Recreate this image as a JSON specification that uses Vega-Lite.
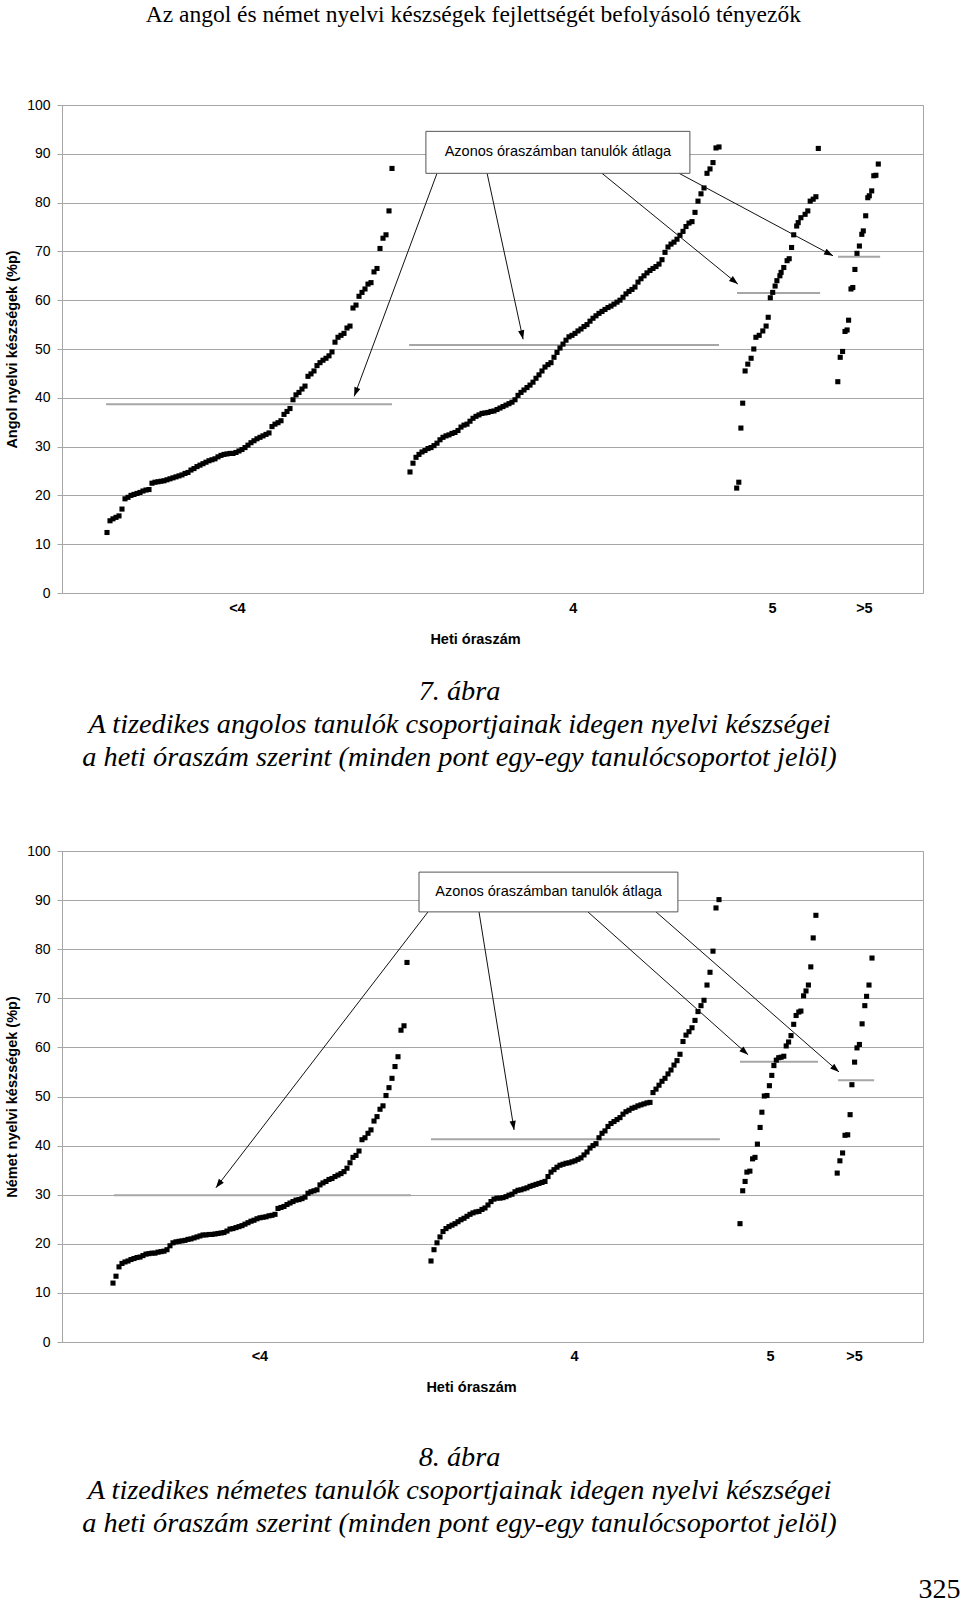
{
"$schema":"https://vega.github.io/schema/vega-lite/v6.json",
"padding":{"left":4,"top":3,"right":0,"bottom":0},
"background":"#ffffff",
"title":{"text":"Az angol és német nyelvi készségek fejlettségét befolyásoló tényezők","font":"Liberation Serif","fontSize":23.5,"fontWeight":"normal","color":"#000","anchor":"middle","offset":71,"dx":-9},
"spacing":71,
"datasets":{
"ptsA":[
{"x":15,"y":12.4},{"x":16,"y":14.8},{"x":17,"y":15.2},{"x":18,"y":15.5},{"x":19,"y":15.8},{"x":20,"y":17.2},{"x":21,"y":19.3},{"x":22,"y":19.6},{"x":23,"y":20.0},{"x":24,"y":20.2},{"x":25,"y":20.4},{"x":26,"y":20.6},{"x":27,"y":20.9},{"x":28,"y":21.1},{"x":29,"y":21.2},{"x":30,"y":22.5},{"x":31,"y":22.7},{"x":32,"y":22.8},{"x":33,"y":22.9},{"x":34,"y":23.0},{"x":35,"y":23.2},{"x":36,"y":23.4},{"x":37,"y":23.6},{"x":38,"y":23.8},{"x":39,"y":24.0},{"x":40,"y":24.2},{"x":41,"y":24.5},{"x":42,"y":24.7},{"x":43,"y":25.2},{"x":44,"y":25.5},{"x":45,"y":25.9},{"x":46,"y":26.2},{"x":47,"y":26.5},{"x":48,"y":26.8},{"x":49,"y":27.1},{"x":50,"y":27.3},{"x":51,"y":27.5},{"x":52,"y":27.9},{"x":53,"y":28.2},{"x":54,"y":28.4},{"x":55,"y":28.5},{"x":56,"y":28.6},{"x":57,"y":28.6},{"x":58,"y":28.8},{"x":59,"y":29.1},{"x":60,"y":29.4},{"x":61,"y":29.8},{"x":62,"y":30.3},{"x":63,"y":30.8},{"x":64,"y":31.2},{"x":65,"y":31.6},{"x":66,"y":31.9},{"x":67,"y":32.2},{"x":68,"y":32.5},{"x":69,"y":32.8},{"x":70,"y":34.1},{"x":71,"y":34.6},{"x":72,"y":34.9},{"x":73,"y":35.3},{"x":74,"y":36.6},{"x":75,"y":37.2},{"x":76,"y":37.8},{"x":77,"y":39.6},{"x":78,"y":40.6},{"x":79,"y":41.1},{"x":80,"y":41.8},{"x":81,"y":42.4},{"x":82,"y":44.4},{"x":83,"y":44.9},{"x":84,"y":45.5},{"x":85,"y":46.6},{"x":86,"y":47.2},{"x":87,"y":47.7},{"x":88,"y":48.1},{"x":89,"y":48.6},{"x":90,"y":49.4},{"x":91,"y":51.4},{"x":92,"y":52.4},{"x":93,"y":52.8},{"x":94,"y":53.2},{"x":95,"y":54.3},{"x":96,"y":54.7},{"x":97,"y":58.4},{"x":98,"y":59.0},{"x":99,"y":60.8},{"x":100,"y":61.6},{"x":101,"y":62.3},{"x":102,"y":63.3},{"x":103,"y":63.6},{"x":104,"y":65.8},{"x":105,"y":66.5},{"x":106,"y":70.6},{"x":107,"y":72.7},{"x":108,"y":73.4},{"x":109,"y":78.3},{"x":110,"y":87.0},
{"x":116,"y":24.8},{"x":117,"y":26.6},{"x":118,"y":27.8},{"x":119,"y":28.4},{"x":120,"y":28.9},{"x":121,"y":29.2},{"x":122,"y":29.6},{"x":123,"y":29.8},{"x":124,"y":30.2},{"x":125,"y":30.7},{"x":126,"y":31.4},{"x":127,"y":31.9},{"x":128,"y":32.2},{"x":129,"y":32.4},{"x":130,"y":32.7},{"x":131,"y":32.9},{"x":132,"y":33.3},{"x":133,"y":34.0},{"x":134,"y":34.4},{"x":135,"y":34.6},{"x":136,"y":35.2},{"x":137,"y":35.8},{"x":138,"y":36.2},{"x":139,"y":36.5},{"x":140,"y":36.8},{"x":141,"y":36.9},{"x":142,"y":37.0},{"x":143,"y":37.2},{"x":144,"y":37.3},{"x":145,"y":37.6},{"x":146,"y":37.9},{"x":147,"y":38.2},{"x":148,"y":38.5},{"x":149,"y":38.8},{"x":150,"y":39.1},{"x":151,"y":39.6},{"x":152,"y":40.5},{"x":153,"y":41.1},{"x":154,"y":41.6},{"x":155,"y":42.1},{"x":156,"y":42.6},{"x":157,"y":43.2},{"x":158,"y":44.0},{"x":159,"y":44.7},{"x":160,"y":45.5},{"x":161,"y":46.3},{"x":162,"y":46.8},{"x":163,"y":47.2},{"x":164,"y":48.3},{"x":165,"y":49.3},{"x":166,"y":50.2},{"x":167,"y":51.0},{"x":168,"y":51.8},{"x":169,"y":52.5},{"x":170,"y":52.8},{"x":171,"y":53.2},{"x":172,"y":53.7},{"x":173,"y":54.1},{"x":174,"y":54.6},{"x":175,"y":55.0},{"x":176,"y":55.7},{"x":177,"y":56.3},{"x":178,"y":56.8},{"x":179,"y":57.3},{"x":180,"y":57.7},{"x":181,"y":58.1},{"x":182,"y":58.5},{"x":183,"y":58.8},{"x":184,"y":59.2},{"x":185,"y":59.6},{"x":186,"y":60.0},{"x":187,"y":60.6},{"x":188,"y":61.3},{"x":189,"y":61.8},{"x":190,"y":62.2},{"x":191,"y":62.7},{"x":192,"y":63.7},{"x":193,"y":64.4},{"x":194,"y":65.0},{"x":195,"y":65.6},{"x":196,"y":66.1},{"x":197,"y":66.5},{"x":198,"y":66.9},{"x":199,"y":67.4},{"x":200,"y":68.3},{"x":201,"y":69.8},{"x":202,"y":70.9},{"x":203,"y":71.5},{"x":204,"y":71.9},{"x":205,"y":72.5},{"x":206,"y":73.3},{"x":207,"y":74.1},{"x":208,"y":75.1},{"x":209,"y":75.8},{"x":210,"y":76.1},{"x":211,"y":78.0},{"x":212,"y":80.3},{"x":213,"y":81.8},{"x":214,"y":83.0},{"x":215,"y":86.0},{"x":216,"y":86.9},{"x":217,"y":88.2},{"x":218,"y":91.2},{"x":219,"y":91.4},
{"x":224.9,"y":21.5},{"x":225.6,"y":22.7},{"x":226.3,"y":33.8},{"x":226.9,"y":38.9},{"x":227.7,"y":45.5},{"x":228.6,"y":46.9},{"x":229.7,"y":48.1},{"x":230.6,"y":50.0},{"x":231.3,"y":52.4},{"x":232.4,"y":52.8},{"x":233.6,"y":53.7},{"x":234.7,"y":54.7},{"x":235.4,"y":56.5},{"x":236.1,"y":60.5},{"x":236.9,"y":61.6},{"x":237.7,"y":62.9},{"x":238.3,"y":64.0},{"x":239.3,"y":65.0},{"x":239.7,"y":65.7},{"x":240.6,"y":66.7},{"x":241.7,"y":68.1},{"x":242.4,"y":68.5},{"x":243.2,"y":70.8},{"x":243.9,"y":73.4},{"x":244.9,"y":75.2},{"x":245.4,"y":75.9},{"x":246.3,"y":76.9},{"x":247.7,"y":77.6},{"x":248.6,"y":78.3},{"x":249.4,"y":80.3},{"x":250.4,"y":80.7},{"x":251.3,"y":81.2},{"x":252.1,"y":91.1},
{"x":258.6,"y":43.3},{"x":259.4,"y":48.3},{"x":260.2,"y":49.5},{"x":261.0,"y":53.6},{"x":261.7,"y":53.9},{"x":262.2,"y":55.9},{"x":263.0,"y":62.3},{"x":263.6,"y":62.6},{"x":264.3,"y":66.3},{"x":265.0,"y":69.6},{"x":265.8,"y":71.1},{"x":266.6,"y":73.5},{"x":267.1,"y":74.2},{"x":267.9,"y":77.3},{"x":268.6,"y":81.0},{"x":269.1,"y":81.4},{"x":269.9,"y":82.4},{"x":270.6,"y":85.5},{"x":271.3,"y":85.6},{"x":272.1,"y":87.9}
],
"ptsB":[
{"x":17,"y":12.0},{"x":18,"y":13.4},{"x":19,"y":15.3},{"x":20,"y":16.0},{"x":21,"y":16.3},{"x":22,"y":16.5},{"x":23,"y":16.8},{"x":24,"y":17.0},{"x":25,"y":17.2},{"x":26,"y":17.3},{"x":27,"y":17.6},{"x":28,"y":17.9},{"x":29,"y":18.0},{"x":30,"y":18.1},{"x":31,"y":18.1},{"x":32,"y":18.3},{"x":33,"y":18.4},{"x":34,"y":18.5},{"x":35,"y":18.8},{"x":36,"y":19.6},{"x":37,"y":20.2},{"x":38,"y":20.4},{"x":39,"y":20.5},{"x":40,"y":20.6},{"x":41,"y":20.7},{"x":42,"y":20.9},{"x":43,"y":21.0},{"x":44,"y":21.2},{"x":45,"y":21.4},{"x":46,"y":21.6},{"x":47,"y":21.8},{"x":48,"y":21.8},{"x":49,"y":21.9},{"x":50,"y":21.9},{"x":51,"y":22.0},{"x":52,"y":22.1},{"x":53,"y":22.2},{"x":54,"y":22.3},{"x":55,"y":22.6},{"x":56,"y":23.0},{"x":57,"y":23.1},{"x":58,"y":23.3},{"x":59,"y":23.5},{"x":60,"y":23.7},{"x":61,"y":24.0},{"x":62,"y":24.3},{"x":63,"y":24.6},{"x":64,"y":24.8},{"x":65,"y":25.1},{"x":66,"y":25.3},{"x":67,"y":25.4},{"x":68,"y":25.5},{"x":69,"y":25.7},{"x":70,"y":25.8},{"x":71,"y":26.0},{"x":72,"y":27.2},{"x":73,"y":27.4},{"x":74,"y":27.6},{"x":75,"y":28.0},{"x":76,"y":28.3},{"x":77,"y":28.6},{"x":78,"y":28.9},{"x":79,"y":29.0},{"x":80,"y":29.2},{"x":81,"y":29.5},{"x":82,"y":30.3},{"x":83,"y":30.6},{"x":84,"y":30.8},{"x":85,"y":31.0},{"x":86,"y":32.0},{"x":87,"y":32.4},{"x":88,"y":32.7},{"x":89,"y":33.1},{"x":90,"y":33.3},{"x":91,"y":33.7},{"x":92,"y":34.0},{"x":93,"y":34.3},{"x":94,"y":34.7},{"x":95,"y":35.4},{"x":96,"y":36.5},{"x":97,"y":37.6},{"x":98,"y":38.0},{"x":99,"y":38.9},{"x":100,"y":41.2},{"x":101,"y":41.6},{"x":102,"y":42.5},{"x":103,"y":43.2},{"x":104,"y":45.0},{"x":105,"y":45.9},{"x":106,"y":47.4},{"x":107,"y":48.1},{"x":108,"y":50.2},{"x":109,"y":51.8},{"x":110,"y":53.7},{"x":111,"y":56.1},{"x":112,"y":58.1},{"x":113,"y":63.5},{"x":114,"y":64.4},{"x":115,"y":77.3},
{"x":123,"y":16.5},{"x":124,"y":18.8},{"x":125,"y":20.2},{"x":126,"y":21.4},{"x":127,"y":22.5},{"x":128,"y":23.1},{"x":129,"y":23.5},{"x":130,"y":23.8},{"x":131,"y":24.1},{"x":132,"y":24.5},{"x":133,"y":24.9},{"x":134,"y":25.2},{"x":135,"y":25.6},{"x":136,"y":26.0},{"x":137,"y":26.3},{"x":138,"y":26.5},{"x":139,"y":26.6},{"x":140,"y":27.0},{"x":141,"y":27.3},{"x":142,"y":27.9},{"x":143,"y":28.6},{"x":144,"y":29.1},{"x":145,"y":29.3},{"x":146,"y":29.3},{"x":147,"y":29.4},{"x":148,"y":29.6},{"x":149,"y":29.9},{"x":150,"y":30.1},{"x":151,"y":30.6},{"x":152,"y":30.9},{"x":153,"y":31.0},{"x":154,"y":31.2},{"x":155,"y":31.4},{"x":156,"y":31.7},{"x":157,"y":31.9},{"x":158,"y":32.1},{"x":159,"y":32.3},{"x":160,"y":32.5},{"x":161,"y":32.7},{"x":162,"y":33.7},{"x":163,"y":34.6},{"x":164,"y":35.1},{"x":165,"y":35.6},{"x":166,"y":36.0},{"x":167,"y":36.2},{"x":168,"y":36.4},{"x":169,"y":36.5},{"x":170,"y":36.7},{"x":171,"y":36.9},{"x":172,"y":37.2},{"x":173,"y":37.5},{"x":174,"y":38.1},{"x":175,"y":38.7},{"x":176,"y":39.5},{"x":177,"y":40.0},{"x":178,"y":40.4},{"x":179,"y":41.6},{"x":180,"y":42.5},{"x":181,"y":43.0},{"x":182,"y":43.9},{"x":183,"y":44.5},{"x":184,"y":44.9},{"x":185,"y":45.3},{"x":186,"y":45.7},{"x":187,"y":46.4},{"x":188,"y":46.9},{"x":189,"y":47.2},{"x":190,"y":47.6},{"x":191,"y":47.8},{"x":192,"y":48.1},{"x":193,"y":48.3},{"x":194,"y":48.5},{"x":195,"y":48.7},{"x":196,"y":48.8},{"x":197,"y":50.8},{"x":198,"y":51.5},{"x":199,"y":52.3},{"x":200,"y":53.1},{"x":201,"y":53.7},{"x":202,"y":54.6},{"x":203,"y":55.4},{"x":204,"y":56.4},{"x":205,"y":57.3},{"x":206,"y":58.6},{"x":207,"y":61.2},{"x":208,"y":62.5},{"x":209,"y":63.2},{"x":210,"y":64.0},{"x":211,"y":65.5},{"x":212,"y":67.3},{"x":213,"y":68.5},{"x":214,"y":69.6},{"x":215,"y":72.7},{"x":216,"y":75.3},{"x":217,"y":79.6},{"x":218,"y":88.4},{"x":219,"y":90.1},
{"x":226.0,"y":24.1},{"x":226.9,"y":30.8},{"x":227.7,"y":32.7},{"x":228.3,"y":34.6},{"x":229.3,"y":34.8},{"x":230.2,"y":37.3},{"x":231.0,"y":37.6},{"x":231.8,"y":40.3},{"x":232.7,"y":43.7},{"x":233.3,"y":46.8},{"x":234.1,"y":50.1},{"x":235.0,"y":50.2},{"x":235.8,"y":52.2},{"x":236.6,"y":54.3},{"x":237.3,"y":56.3},{"x":238.1,"y":57.4},{"x":238.9,"y":57.9},{"x":239.7,"y":58.0},{"x":240.6,"y":58.2},{"x":241.4,"y":60.3},{"x":242.2,"y":61.1},{"x":243.0,"y":62.4},{"x":243.9,"y":64.7},{"x":244.7,"y":66.5},{"x":245.6,"y":67.2},{"x":246.3,"y":67.4},{"x":247.2,"y":70.5},{"x":248.0,"y":71.5},{"x":248.8,"y":72.7},{"x":249.6,"y":76.4},{"x":250.4,"y":82.3},{"x":251.3,"y":86.9},
{"x":258.4,"y":34.4},{"x":259.3,"y":36.9},{"x":260.2,"y":38.5},{"x":261.0,"y":42.1},{"x":261.9,"y":42.2},{"x":262.7,"y":46.3},{"x":263.3,"y":52.4},{"x":264.2,"y":57.0},{"x":265.0,"y":59.9},{"x":265.8,"y":60.6},{"x":266.7,"y":64.8},{"x":267.6,"y":68.5},{"x":268.2,"y":70.4},{"x":269.0,"y":72.7},{"x":270.0,"y":78.2}
],
"means":[
{"c":"A","g":"<4","x":14.7,"xe":110,"y":38.7},{"c":"A","g":"4","x":115.7,"xe":219,"y":50.8},{"c":"A","g":"5","x":225,"xe":252.7,"y":61.5},{"c":"A","g":">5","x":258.7,"xe":272.7,"y":68.9},
{"c":"B","g":"<4","x":17.3,"xe":116.3,"y":29.9},{"c":"B","g":"4","x":123,"xe":219.3,"y":41.3},{"c":"B","g":"5","x":226,"xe":252,"y":57.1},{"c":"B","g":">5","x":258.7,"xe":270.7,"y":53.3}
],
"boxes":[
{"c":"A","x":121.3,"xe":209.3,"y":94.6,"ye":86.0,"tx":165.3,"ty":90.3,"t":"Azonos óraszámban tanulók átlaga"},
{"c":"B","x":119,"xe":205.3,"y":95.7,"ye":87.6,"tx":162.2,"ty":91.7,"t":"Azonos óraszámban tanulók átlaga"}
],
"arrows":[
{"c":"A","id":"A1","x":125,"y":86.0,"xe":97.4,"ye":40.3},{"c":"A","id":"A2","x":141.7,"y":86.0,"xe":153.7,"ye":52.0},{"c":"A","id":"A3","x":180,"y":86.0,"xe":225.3,"ye":63.3},{"c":"A","id":"A4","x":205.7,"y":86.0,"xe":257,"ye":69.1},
{"c":"B","id":"B1","x":122,"y":87.6,"xe":51.3,"ye":31.4},{"c":"B","id":"B2","x":139,"y":87.6,"xe":150.7,"ye":43.2},{"c":"B","id":"B3","x":175.3,"y":87.6,"xe":228.7,"ye":58.5},{"c":"B","id":"B4","x":198,"y":87.6,"xe":259,"ye":55.0}
]
},
"vconcat":[
{
"width":861,"height":488,
"title":{"text":["7. ábra","A tizedikes angolos tanulók csoportjainak idegen nyelvi készségei","a heti óraszám szerint (minden pont egy-egy tanulócsoportot jelöl)"],"orient":"bottom","anchor":"middle","font":"Liberation Serif","fontStyle":"italic","fontWeight":"normal","fontSize":28.3,"lineHeight":33,"offset":32,"dx":-33,"color":"#000"},
"layer":[
{"data":{"name":"means"},"transform":[{"filter":"datum.c=='A'"}],"mark":{"type":"rule","color":"#a6a6a6","strokeWidth":2},
"encoding":{"x":{"field":"x","type":"quantitative","scale":{"domain":[0,287],"nice":false},"title":"Heti óraszám"},"x2":{"field":"xe"},"y":{"field":"y","type":"quantitative","scale":{"domain":[0,100],"nice":false},"title":"Angol nyelvi készségek (%p)"}}},
{"data":{"name":"ptsA"},"mark":{"type":"point","shape":"square","filled":true,"color":"#000","size":26,"opacity":1},
"encoding":{"x":{"field":"x","type":"quantitative","scale":{"domain":[0,287],"nice":false},"title":"Heti óraszám","axis":{"values":[58.3,170.3,236.7,267.3],"labelExpr":"datum.value < 100 ? '<4' : datum.value < 200 ? '4' : datum.value < 250 ? '5' : '>5'","titleX":413}},
"y":{"field":"y","type":"quantitative","scale":{"domain":[0,100],"nice":false},"title":"Angol nyelvi készségek (%p)","axis":{"values":[0,10,20,30,40,50,60,70,80,90,100]}}}},
{"data":{"name":"arrows"},"transform":[{"filter":"datum.c=='A'"}],"mark":{"type":"rule","color":"#111","strokeWidth":1},
"encoding":{"x":{"field":"x","type":"quantitative","scale":{"domain":[0,287],"nice":false},"title":"Heti óraszám"},"x2":{"field":"xe"},"y":{"field":"y","type":"quantitative","scale":{"domain":[0,100],"nice":false},"title":"Angol nyelvi készségek (%p)"},"y2":{"field":"ye"}}},
{"data":{"name":"arrows"},"transform":[{"filter":"datum.id=='A1'"}],"mark":{"type":"point","shape":"M0,0L-0.35,1L0.35,1Z","filled":true,"color":"#000","opacity":1,"size":320,"angle":200.6},
"encoding":{"x":{"field":"xe","type":"quantitative","scale":{"domain":[0,287],"nice":false},"title":"Heti óraszám"},"y":{"field":"ye","type":"quantitative","scale":{"domain":[0,100],"nice":false},"title":"Angol nyelvi készségek (%p)"}}},
{"data":{"name":"arrows"},"transform":[{"filter":"datum.id=='A2'"}],"mark":{"type":"point","shape":"M0,0L-0.35,1L0.35,1Z","filled":true,"color":"#000","opacity":1,"size":320,"angle":167.6},
"encoding":{"x":{"field":"xe","type":"quantitative","scale":{"domain":[0,287],"nice":false},"title":"Heti óraszám"},"y":{"field":"ye","type":"quantitative","scale":{"domain":[0,100],"nice":false},"title":"Angol nyelvi készségek (%p)"}}},
{"data":{"name":"arrows"},"transform":[{"filter":"datum.id=='A3'"}],"mark":{"type":"point","shape":"M0,0L-0.35,1L0.35,1Z","filled":true,"color":"#000","opacity":1,"size":320,"angle":128.7},
"encoding":{"x":{"field":"xe","type":"quantitative","scale":{"domain":[0,287],"nice":false},"title":"Heti óraszám"},"y":{"field":"ye","type":"quantitative","scale":{"domain":[0,100],"nice":false},"title":"Angol nyelvi készségek (%p)"}}},
{"data":{"name":"arrows"},"transform":[{"filter":"datum.id=='A4'"}],"mark":{"type":"point","shape":"M0,0L-0.35,1L0.35,1Z","filled":true,"color":"#000","opacity":1,"size":320,"angle":117.7},
"encoding":{"x":{"field":"xe","type":"quantitative","scale":{"domain":[0,287],"nice":false},"title":"Heti óraszám"},"y":{"field":"ye","type":"quantitative","scale":{"domain":[0,100],"nice":false},"title":"Angol nyelvi készségek (%p)"}}},
{"data":{"name":"boxes"},"transform":[{"filter":"datum.c=='A'"}],"mark":{"type":"rect","fill":"#ffffff","stroke":"#555","strokeWidth":1},
"encoding":{"x":{"field":"x","type":"quantitative","scale":{"domain":[0,287],"nice":false},"title":"Heti óraszám"},"x2":{"field":"xe"},"y":{"field":"y","type":"quantitative","scale":{"domain":[0,100],"nice":false},"title":"Angol nyelvi készségek (%p)"},"y2":{"field":"ye"}}},
{"data":{"name":"boxes"},"transform":[{"filter":"datum.c=='A'"}],"mark":{"type":"text","font":"Liberation Sans","fontSize":14.5,"color":"#000","baseline":"middle","align":"center"},
"encoding":{"x":{"field":"tx","type":"quantitative","scale":{"domain":[0,287],"nice":false},"title":"Heti óraszám"},"y":{"field":"ty","type":"quantitative","scale":{"domain":[0,100],"nice":false},"title":"Angol nyelvi készségek (%p)"},"text":{"field":"t"}}}
]
},
{
"title":{"text":"325","orient":"bottom","anchor":"end","font":"Liberation Serif","fontSize":28,"fontWeight":"normal","color":"#000","offset":38,"dx":37},
"vconcat":[
{
"width":861,"height":491,
"title":{"text":["8. ábra","A tizedikes németes tanulók csoportjainak idegen nyelvi készségei","a heti óraszám szerint (minden pont egy-egy tanulócsoportot jelöl)"],"orient":"bottom","anchor":"middle","font":"Liberation Serif","fontStyle":"italic","fontWeight":"normal","fontSize":28.3,"lineHeight":33,"offset":50,"dx":-33,"color":"#000"},
"layer":[
{"data":{"name":"means"},"transform":[{"filter":"datum.c=='B'"}],"mark":{"type":"rule","color":"#a6a6a6","strokeWidth":2},
"encoding":{"x":{"field":"x","type":"quantitative","scale":{"domain":[0,287],"nice":false},"title":"Heti óraszám"},"x2":{"field":"xe"},"y":{"field":"y","type":"quantitative","scale":{"domain":[0,100],"nice":false},"title":"Német nyelvi készségek (%p)"}}},
{"data":{"name":"ptsB"},"mark":{"type":"point","shape":"square","filled":true,"color":"#000","size":26,"opacity":1},
"encoding":{"x":{"field":"x","type":"quantitative","scale":{"domain":[0,287],"nice":false},"title":"Heti óraszám","axis":{"values":[65.8,170.7,236,264],"labelExpr":"datum.value < 100 ? '<4' : datum.value < 200 ? '4' : datum.value < 250 ? '5' : '>5'","titleX":409,"labelPadding":7}},
"y":{"field":"y","type":"quantitative","scale":{"domain":[0,100],"nice":false},"title":"Német nyelvi készségek (%p)","axis":{"values":[0,10,20,30,40,50,60,70,80,90,100]}}}},
{"data":{"name":"arrows"},"transform":[{"filter":"datum.c=='B'"}],"mark":{"type":"rule","color":"#111","strokeWidth":1},
"encoding":{"x":{"field":"x","type":"quantitative","scale":{"domain":[0,287],"nice":false},"title":"Heti óraszám"},"x2":{"field":"xe"},"y":{"field":"y","type":"quantitative","scale":{"domain":[0,100],"nice":false},"title":"Német nyelvi készségek (%p)"},"y2":{"field":"ye"}}},
{"data":{"name":"arrows"},"transform":[{"filter":"datum.id=='B1'"}],"mark":{"type":"point","shape":"M0,0L-0.35,1L0.35,1Z","filled":true,"color":"#000","opacity":1,"size":320,"angle":217.6},
"encoding":{"x":{"field":"xe","type":"quantitative","scale":{"domain":[0,287],"nice":false},"title":"Heti óraszám"},"y":{"field":"ye","type":"quantitative","scale":{"domain":[0,100],"nice":false},"title":"Német nyelvi készségek (%p)"}}},
{"data":{"name":"arrows"},"transform":[{"filter":"datum.id=='B2'"}],"mark":{"type":"point","shape":"M0,0L-0.35,1L0.35,1Z","filled":true,"color":"#000","opacity":1,"size":320,"angle":170.8},
"encoding":{"x":{"field":"xe","type":"quantitative","scale":{"domain":[0,287],"nice":false},"title":"Heti óraszám"},"y":{"field":"ye","type":"quantitative","scale":{"domain":[0,100],"nice":false},"title":"Német nyelvi készségek (%p)"}}},
{"data":{"name":"arrows"},"transform":[{"filter":"datum.id=='B3'"}],"mark":{"type":"point","shape":"M0,0L-0.35,1L0.35,1Z","filled":true,"color":"#000","opacity":1,"size":320,"angle":131.6},
"encoding":{"x":{"field":"xe","type":"quantitative","scale":{"domain":[0,287],"nice":false},"title":"Heti óraszám"},"y":{"field":"ye","type":"quantitative","scale":{"domain":[0,100],"nice":false},"title":"Német nyelvi készségek (%p)"}}},
{"data":{"name":"arrows"},"transform":[{"filter":"datum.id=='B4'"}],"mark":{"type":"point","shape":"M0,0L-0.35,1L0.35,1Z","filled":true,"color":"#000","opacity":1,"size":320,"angle":131.0},
"encoding":{"x":{"field":"xe","type":"quantitative","scale":{"domain":[0,287],"nice":false},"title":"Heti óraszám"},"y":{"field":"ye","type":"quantitative","scale":{"domain":[0,100],"nice":false},"title":"Német nyelvi készségek (%p)"}}},
{"data":{"name":"boxes"},"transform":[{"filter":"datum.c=='B'"}],"mark":{"type":"rect","fill":"#ffffff","stroke":"#555","strokeWidth":1},
"encoding":{"x":{"field":"x","type":"quantitative","scale":{"domain":[0,287],"nice":false},"title":"Heti óraszám"},"x2":{"field":"xe"},"y":{"field":"y","type":"quantitative","scale":{"domain":[0,100],"nice":false},"title":"Német nyelvi készségek (%p)"},"y2":{"field":"ye"}}},
{"data":{"name":"boxes"},"transform":[{"filter":"datum.c=='B'"}],"mark":{"type":"text","font":"Liberation Sans","fontSize":14.5,"color":"#000","baseline":"middle","align":"center"},
"encoding":{"x":{"field":"tx","type":"quantitative","scale":{"domain":[0,287],"nice":false},"title":"Heti óraszám"},"y":{"field":"ty","type":"quantitative","scale":{"domain":[0,100],"nice":false},"title":"Német nyelvi készségek (%p)"},"text":{"field":"t"}}}
]
}
]
}
],
"config":{
"view":{"stroke":"#a6a6a6","strokeWidth":1},
"axis":{"labelFont":"Liberation Sans","titleFont":"Liberation Sans","labelColor":"#000","titleColor":"#000","titleFontWeight":"bold"},
"axisY":{"grid":true,"gridColor":"#a6a6a6","gridWidth":1,"gridOpacity":1,"domainColor":"#a6a6a6","tickColor":"#a6a6a6","tickSize":5,"labelPadding":7,"labelFontSize":14,"titleFontSize":14.5,"titlePadding":7},
"axisX":{"grid":false,"ticks":false,"domain":false,"labelPadding":8,"labelFontSize":14.5,"labelFontWeight":"bold","titleFontSize":14.5,"titlePadding":18,"labelFlush":false,"labelOverlap":false,"labelBound":false}
}
}
